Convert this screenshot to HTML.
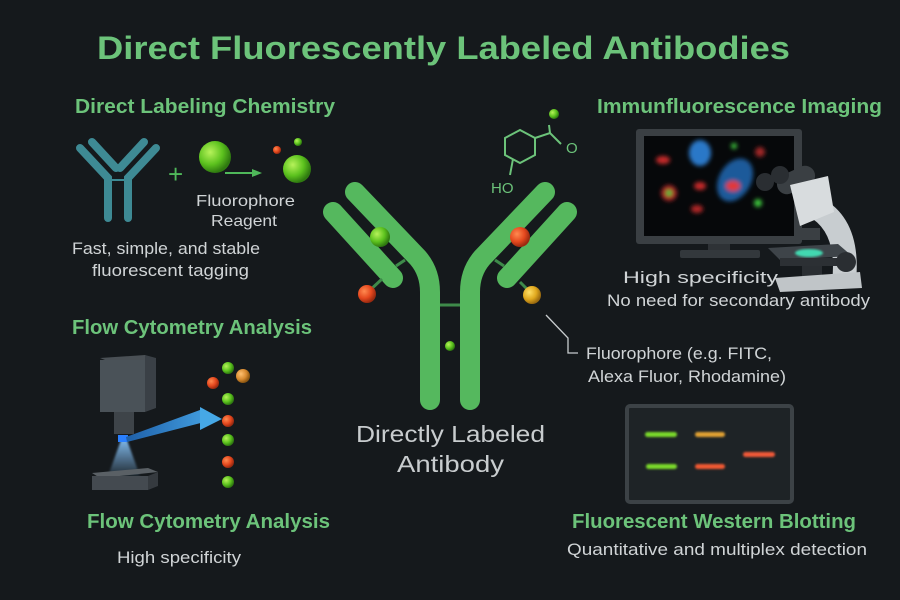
<!DOCTYPE html>
<html><head><meta charset="utf-8"><style>
html,body{margin:0;padding:0;background:#15191c;}
svg{display:block}
text{font-family:"Liberation Sans","DejaVu Sans",sans-serif}
</style></head><body>
<svg width="900" height="600" viewBox="0 0 900 600" xmlns="http://www.w3.org/2000/svg">
<defs>
<radialGradient id="gG" cx="35%" cy="35%" r="65%"><stop offset="0" stop-color="#b6f25a"/><stop offset="0.6" stop-color="#5cc21e"/><stop offset="1" stop-color="#2f7a10"/></radialGradient>
<radialGradient id="gR" cx="35%" cy="35%" r="65%"><stop offset="0" stop-color="#ff8a50"/><stop offset="0.6" stop-color="#e5481e"/><stop offset="1" stop-color="#9a2a10"/></radialGradient>
<radialGradient id="gY" cx="35%" cy="35%" r="65%"><stop offset="0" stop-color="#ffe066"/><stop offset="0.6" stop-color="#e0a81e"/><stop offset="1" stop-color="#9a6a10"/></radialGradient>
<radialGradient id="gO" cx="35%" cy="35%" r="65%"><stop offset="0" stop-color="#ffc070"/><stop offset="0.6" stop-color="#d88a30"/><stop offset="1" stop-color="#8a5510"/></radialGradient>
<linearGradient id="beam" x1="0" x2="1"><stop offset="0" stop-color="#1e5fa8"/><stop offset="1" stop-color="#48a8e8"/></linearGradient>
<linearGradient id="cone" x1="0" y1="0" x2="0" y2="1"><stop offset="0" stop-color="#8ac8ff" stop-opacity="0.9"/><stop offset="1" stop-color="#8ac8ff" stop-opacity="0.1"/></linearGradient>
<filter id="blur"><feGaussianBlur stdDeviation="2"/></filter>
<filter id="blur1"><feGaussianBlur stdDeviation="1"/></filter>
</defs>

<text x="97" y="59" font-size="32" font-weight="bold" fill="#6cc37a" textLength="693" lengthAdjust="spacingAndGlyphs">Direct Fluorescently Labeled Antibodies</text>

<!-- Top-left -->
<text x="75" y="113" font-size="20" font-weight="bold" fill="#6cc37a" textLength="260" lengthAdjust="spacingAndGlyphs">Direct Labeling Chemistry</text>
<g stroke="#3e8a94" stroke-width="8" stroke-linecap="round" fill="none">
<path d="M80 148 L108 178 L108 218"/>
<path d="M92 142 L116 168"/>
<path d="M156 148 L128 178 L128 218"/>
<path d="M144 142 L120 168"/>
</g>
<line x1="112" y1="180" x2="124" y2="180" stroke="#3e8a94" stroke-width="2"/>
<text x="168" y="183" font-size="26" fill="#4fb85a">+</text>
<circle cx="215" cy="157" r="16" fill="url(#gG)"/>
<line x1="225" y1="173" x2="255" y2="173" stroke="#4fb85a" stroke-width="2"/>
<polygon points="262,173 252,169 252,177" fill="#4fb85a"/>
<circle cx="277" cy="150" r="4" fill="url(#gR)"/>
<circle cx="298" cy="142" r="4" fill="url(#gG)"/>
<circle cx="297" cy="169" r="14" fill="url(#gG)"/>
<text x="196" y="206" font-size="16" fill="#d0d4d6" textLength="99" lengthAdjust="spacingAndGlyphs">Fluorophore</text>
<text x="211" y="226" font-size="16" fill="#d0d4d6" textLength="66" lengthAdjust="spacingAndGlyphs">Reagent</text>
<text x="72" y="254" font-size="17" fill="#d0d4d6" textLength="188" lengthAdjust="spacingAndGlyphs">Fast, simple, and stable</text>
<text x="92" y="276" font-size="17" fill="#d0d4d6" textLength="157" lengthAdjust="spacingAndGlyphs">fluorescent tagging</text>

<!-- Flow cytometry -->
<text x="72" y="334" font-size="20" font-weight="bold" fill="#6cc37a" textLength="240" lengthAdjust="spacingAndGlyphs">Flow Cytometry Analysis</text>
<polygon points="100,358 145,355 155,360 110,362" fill="#4a5055"/>
<rect x="100" y="360" width="45" height="52" fill="#4a5258"/>
<polygon points="145,355 156,358 156,408 145,412" fill="#3a4046"/>
<rect x="114" y="412" width="20" height="22" fill="#3e4449"/>
<polygon points="121,440 127,440 140,476 108,476" fill="url(#cone)" filter="url(#blur1)"/>
<rect x="118" y="435" width="10" height="7" fill="#2a7fff"/>
<polygon points="126,437 200,410 220,418 127,442" fill="url(#beam)"/>
<polygon points="200,407 222,419 200,430" fill="#46a8e6"/>
<polygon points="92,473 148,468 158,472 100,478" fill="#5a6065"/>
<rect x="92" y="476" width="56" height="14" fill="#444a50"/>
<polygon points="148,476 158,472 158,486 148,490" fill="#353a3f"/>
<circle cx="228" cy="368" r="6" fill="url(#gG)"/>
<circle cx="243" cy="376" r="7" fill="url(#gO)"/>
<circle cx="213" cy="383" r="6" fill="url(#gR)"/>
<circle cx="228" cy="399" r="6" fill="url(#gG)"/>
<circle cx="228" cy="421" r="6" fill="url(#gR)"/>
<circle cx="228" cy="440" r="6" fill="url(#gG)"/>
<circle cx="228" cy="462" r="6" fill="url(#gR)"/>
<circle cx="228" cy="482" r="6" fill="url(#gG)"/>
<text x="87" y="528" font-size="20" font-weight="bold" fill="#6cc37a" textLength="243" lengthAdjust="spacingAndGlyphs">Flow Cytometry Analysis</text>
<text x="117" y="563" font-size="17" fill="#d0d4d6" textLength="124" lengthAdjust="spacingAndGlyphs">High specificity</text>

<!-- Center antibody -->
<g stroke="#55b85e" stroke-width="20" stroke-linecap="round" fill="none">
<path d="M355 192 L418 258 Q430 272 430 292 L430 400"/>
<path d="M545 192 L482 258 Q470 272 470 292 L470 400"/>
<path d="M333 212 L393 278"/>
<path d="M567 212 L507 278"/>
</g>
<line x1="440" y1="305" x2="460" y2="305" stroke="#3e8a4a" stroke-width="3"/>
<line x1="396" y1="266" x2="405" y2="260" stroke="#3e8a4a" stroke-width="3"/>
<line x1="504" y1="266" x2="495" y2="260" stroke="#3e8a4a" stroke-width="3"/>
<line x1="367" y1="293" x2="382" y2="279" stroke="#3e8a4a" stroke-width="3"/>
<line x1="532" y1="294" x2="520" y2="282" stroke="#3e8a4a" stroke-width="3"/>
<circle cx="380" cy="237" r="10" fill="url(#gG)"/>
<circle cx="367" cy="294" r="9" fill="url(#gR)"/>
<circle cx="520" cy="237" r="10" fill="url(#gR)"/>
<circle cx="532" cy="295" r="9" fill="url(#gY)"/>
<circle cx="450" cy="346" r="5" fill="url(#gG)"/>
<polyline points="546,315 568,338 568,353 578,353" fill="none" stroke="#c8ccce" stroke-width="1.3"/>
<text x="586" y="359" font-size="17" fill="#d0d4d6" textLength="186" lengthAdjust="spacingAndGlyphs">Fluorophore (e.g. FITC,</text>
<text x="588" y="382" font-size="17" fill="#d0d4d6" textLength="198" lengthAdjust="spacingAndGlyphs">Alexa Fluor, Rhodamine)</text>
<!-- chemical -->
<g stroke="#6cc37a" stroke-width="2" fill="none">
<polygon points="520,130 535,138 535,155 520,163 505,155 505,138"/>
<polyline points="535,138 550,133 561,144"/>
<line x1="550" y1="133" x2="549" y2="125"/>
<line x1="513" y1="159" x2="510" y2="175"/>
</g>
<circle cx="554" cy="114" r="5" fill="url(#gG)"/>
<text x="566" y="153" font-size="15" fill="#6cc37a">O</text>
<text x="491" y="193" font-size="15" fill="#6cc37a">HO</text>
<text x="356" y="442" font-size="23" fill="#c8ccce" textLength="189" lengthAdjust="spacingAndGlyphs">Directly Labeled</text>
<text x="397" y="472" font-size="23" fill="#c8ccce" textLength="107" lengthAdjust="spacingAndGlyphs">Antibody</text>

<!-- Imaging -->
<text x="597" y="113" font-size="20" font-weight="bold" fill="#6cc37a" textLength="285" lengthAdjust="spacingAndGlyphs">Immunfluorescence Imaging</text>
<rect x="636" y="129" width="166" height="115" rx="3" fill="#3a3f43"/>
<rect x="644" y="136" width="150" height="100" fill="#06080a"/>
<rect x="708" y="244" width="22" height="12" fill="#2e3236"/>
<rect x="680" y="250" width="80" height="8" rx="2" fill="#33383c"/>
<g filter="url(#blur)">
<ellipse cx="700" cy="153" rx="11" ry="13" fill="#2a78c8"/>
<ellipse cx="735" cy="180" rx="16" ry="23" fill="#1e5a9a" transform="rotate(30 735 180)"/>
<ellipse cx="733" cy="186" rx="7" ry="5" fill="#e23838"/>
<ellipse cx="663" cy="160" rx="7" ry="4" fill="#c82a2a"/>
<ellipse cx="700" cy="186" rx="6" ry="4" fill="#c82a2a"/>
<ellipse cx="669" cy="193" rx="8" ry="8" fill="#a82626"/>
<circle cx="669" cy="193" r="3" fill="#3ec83e"/>
<ellipse cx="697" cy="209" rx="6" ry="4" fill="#b02828"/>
<ellipse cx="760" cy="152" rx="5" ry="5" fill="#a02626"/>
<circle cx="734" cy="146" r="3" fill="#3ec83e"/>
<circle cx="758" cy="203" r="4" fill="#3ec83e"/>
</g>
<!-- microscope -->
<path d="M822 198 Q862 220 856 282 L832 282 Q838 232 808 216 Z" fill="#c8cdd0"/>
<rect x="776" y="170" width="40" height="20" rx="10" fill="#3a3f43" transform="rotate(-25 796 180)"/>
<circle cx="765" cy="182" r="9" fill="#2a2e32"/>
<circle cx="780" cy="175" r="9" fill="#2a2e32"/>
<path d="M790 185 L828 176 L834 212 L800 226 Z" fill="#d8dcde"/>
<rect x="800" y="228" width="20" height="12" fill="#3a3f43"/>
<polygon points="768,248 838,244 852,256 780,260" fill="#3e4449"/>
<rect x="780" y="258" width="72" height="8" fill="#2c3034"/>
<ellipse cx="809" cy="253" rx="14" ry="4" fill="#43d8b0" filter="url(#blur1)"/>
<rect x="802" y="266" width="20" height="12" fill="#2a2e32"/>
<path d="M775 278 L860 272 L862 288 L780 292 Z" fill="#c0c5c8"/>
<circle cx="846" cy="262" r="10" fill="#2a2e32"/>
<text x="623" y="283" font-size="17" fill="#d0d4d6" textLength="155" lengthAdjust="spacingAndGlyphs">High specificity</text>
<text x="607" y="306" font-size="17" fill="#d0d4d6" textLength="263" lengthAdjust="spacingAndGlyphs">No need for secondary antibody</text>

<!-- Western -->
<rect x="627" y="406" width="165" height="96" rx="3" fill="#1e2326" stroke="#3c4246" stroke-width="4"/>
<g filter="url(#blur1)">
<rect x="645" y="432" width="32" height="5" rx="2.5" fill="#7ad82a"/>
<rect x="695" y="432" width="30" height="5" rx="2.5" fill="#e0a030"/>
<rect x="743" y="452" width="32" height="5" rx="2.5" fill="#f05838"/>
<rect x="646" y="464" width="31" height="5" rx="2.5" fill="#7ad82a"/>
<rect x="695" y="464" width="30" height="5" rx="2.5" fill="#f05830"/>
</g>
<text x="572" y="528" font-size="20" font-weight="bold" fill="#6cc37a" textLength="284" lengthAdjust="spacingAndGlyphs">Fluorescent Western Blotting</text>
<text x="567" y="555" font-size="17" fill="#d0d4d6" textLength="300" lengthAdjust="spacingAndGlyphs">Quantitative and multiplex detection</text>
</svg>
</body></html>
